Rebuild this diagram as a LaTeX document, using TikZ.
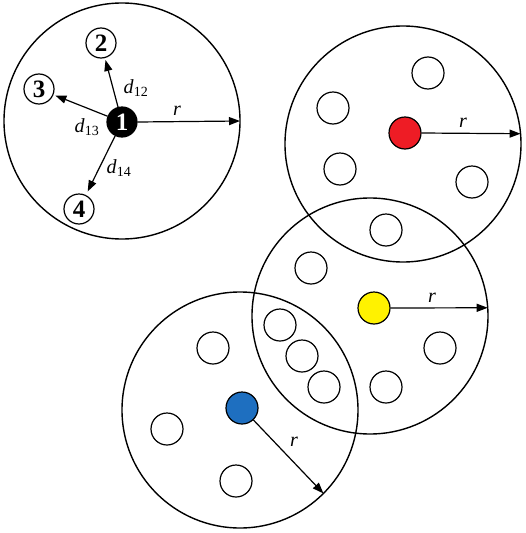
\documentclass[tikz,border=0pt]{standalone}
\usepackage{fontspec}
\setmainfont{Liberation Serif}
\usetikzlibrary{arrows.meta}
\definecolor{headred}{HTML}{EE1C25}
\definecolor{headyellow}{HTML}{FFF200}
\definecolor{headblue}{HTML}{1E6FC0}

\begin{document}
\begin{tikzpicture}[
  x=1pt, y=-1pt,
  zone/.style={circle, draw, line width=1.4pt, minimum size=236pt,
               inner sep=0pt, outer sep=0pt},
  member/.style={circle, draw, line width=1.2pt, fill=white,
                 minimum size=32pt, inner sep=0pt},
  numbered/.style={member, minimum size=30pt,
                   font=\fontsize{25}{25}\selectfont\bfseries},
  head/.style={member, fill=#1},
  lbl/.style={font=\fontsize{20}{20}\selectfont, inner sep=1pt},
  rarr/.style={-{Triangle[length=11pt,width=8pt]}, line width=1.2pt},
]
\useasboundingbox (0,0) rectangle (526,533);

%% ── Zones (radius r) ─────────────────────────────────────────────────────────
\node[zone] (zoneA) at (122,121) {};
\node[zone] (zoneB) at (403,144) {};
\node[zone] (zoneC) at (370,316) {};
\node[zone] (zoneD) at (240,410) {};

%% ── Zone A: node 1 and its neighbours ────────────────────────────────────────
\node[numbered, fill=black, text=white] (n1) at (122,122) {1};
\node[numbered] (n2) at (101,43)  {2};
\node[numbered] (n3) at (39,89)   {3};
\node[numbered] (n4) at (79,209)  {4};

\draw[rarr, shorten >=2pt] (n1) -- (n2);
\draw[rarr, shorten >=2pt] (n1) -- (n3);
\draw[rarr, shorten >=4pt] (n1) -- (n4);
\draw[rarr] (n1.east) -- (zoneA.0);

\node[lbl] (d12) at (136,88)  {\textit{d}\textsubscript{12}};
\node[lbl] (d13) at (87,127)  {\textit{d}\textsubscript{13}};
\node[lbl] (d14) at (119,168) {\textit{d}\textsubscript{14}};
\node[lbl] (rA)  at (177,111) {\textit{r}};

%% ── Zone B: red head ─────────────────────────────────────────────────────────
\node[head=headred] (headR) at (405,133) {};
\node[member] (b1) at (428,73)  {};
\node[member] (b2) at (333,108) {};
\node[member] (b3) at (340,169) {};
\node[member] (b4) at (472,182) {};
\node[member] (bc) at (386,230) {};
\draw[rarr] (headR.east) -- (zoneB.5);
\node[lbl] (rB) at (463,123) {\textit{r}};

%% ── Zone C: yellow head ──────────────────────────────────────────────────────
\node[head=headyellow] (headY) at (374,308) {};
\node[member] (c1) at (311,268) {};
\node[member] (c2) at (440,348) {};
\node[member] (c3) at (386,387) {};
\node[member] (cd1) at (280,325) {};
\node[member] (cd2) at (302,356) {};
\node[member] (cd3) at (324,387) {};
\draw[rarr] (headY.east) -- (zoneC.4);
\node[lbl] (rC) at (432,298) {\textit{r}};

%% ── Zone D: blue head ────────────────────────────────────────────────────────
\node[head=headblue] (headB) at (242,408) {};
\node[member] (d1) at (213,348) {};
\node[member] (d2) at (167,429) {};
\node[member] (d3) at (236,481) {};
\draw[rarr] (headB) -- (zoneD.-45);
\node[lbl] (rD) at (294,442) {\textit{r}};

\end{tikzpicture}
\end{document}
